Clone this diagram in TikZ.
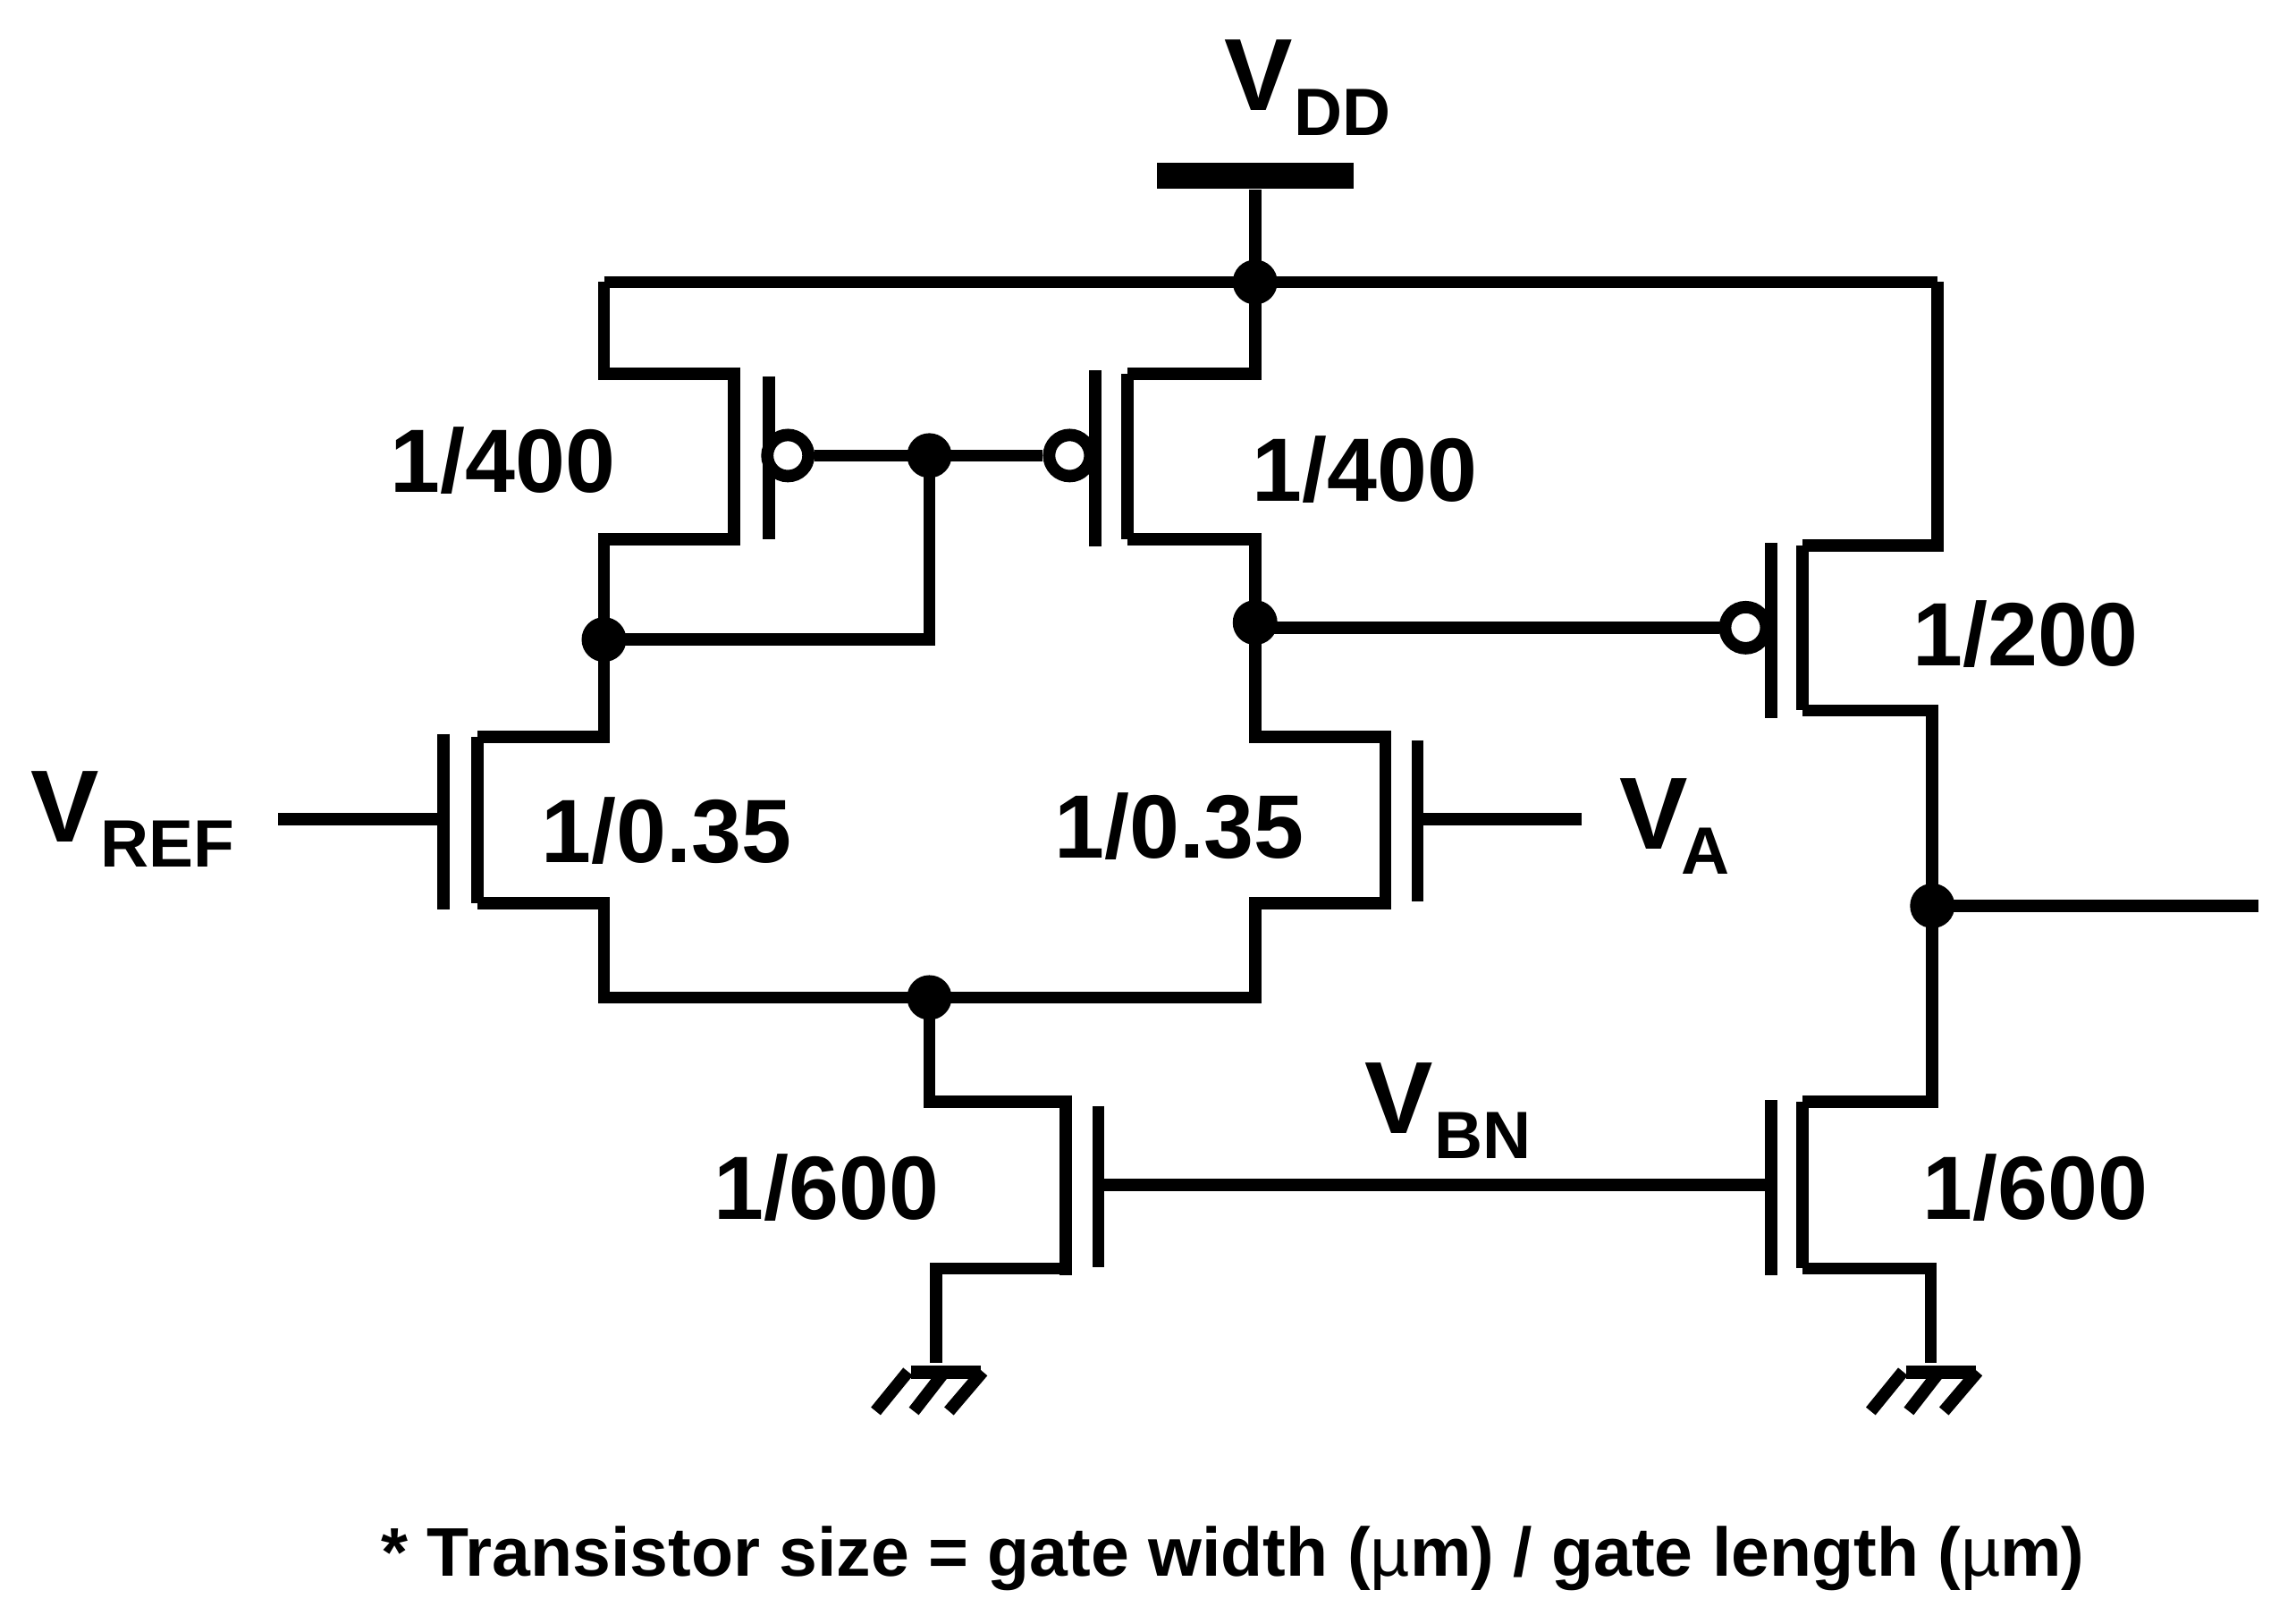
\documentclass[tikz,border=0pt]{standalone}
\usepackage{fontspec}
\setmainfont{Liberation Sans}
\newcommand{\vsub}[2][0.5pt]{\fontsize{32.6}{36}\selectfont V\kern#1\raisebox{-7.9pt}{\fontsize{21.3}{24}\selectfont #2}}
\begin{document}
\begin{tikzpicture}[x=0.01638cm,y=-0.01638cm,
	wire/.style={line width=0.138cm,line join=miter},
	bar/.style={wire,shorten <=-2pt,shorten >=-2pt},
	dot/.style={circle,fill=black,inner sep=0pt,minimum size=0.5cm},
	bub/.style={circle,draw=black,fill=white,line width=0.138cm,inner sep=0pt,minimum size=0.46cm},
	lbl/.style={anchor=base west,inner sep=0pt,font=\bfseries\fontsize{28.6}{32}\selectfont},
	gnd/.pic={
		\draw[line width=0.15cm] (-17,6.5) -- (31,6.5);
		\draw[wire] (-19,6) -- (-41,33);
		\draw[wire] (6,6) -- (-15,33);
		\draw[wire] (32,6) -- (9,33);
	}]
	\useasboundingbox (0,0) rectangle (1567.8,1108.7);

	\node[fill=black,inner sep=0pt,minimum width=2.195cm,minimum height=0.295cm] (vdd) at (857,120) {};
	\node[dot] (jv) at (857,192.6) {};
	\node[dot] (jg) at (634.6,311) {};
	\node[dot] (jl) at (412.4,436.6) {};
	\node[dot] (jr) at (857,425) {};
	\node[dot] (jt) at (634.6,681) {};
	\node[dot] (jo) at (1319.5,618.4) {};

	\coordinate (tl) at (412.4,192.6);
	\coordinate (tr) at (1323,192.6);
	\coordinate (c1a) at (501,255);
	\coordinate (c1b) at (501,368);
	\coordinate (g1a) at (525,257);
	\coordinate (g1b) at (525,368);
	\coordinate (c2a) at (770,255);
	\coordinate (c2b) at (770,368);
	\coordinate (g2a) at (748,253);
	\coordinate (g2b) at (748,373);
	\coordinate (c3a) at (1231,372.5);
	\coordinate (c3b) at (1231,485);
	\coordinate (g3a) at (1209.5,370.5);
	\coordinate (g3b) at (1209.5,490.5);
	\coordinate (c4a) at (326,503);
	\coordinate (c4b) at (326,616.5);
	\coordinate (g4a) at (303,501);
	\coordinate (g4b) at (303,621);
	\coordinate (c5a) at (946,503);
	\coordinate (c5b) at (946,616.5);
	\coordinate (g5a) at (968,505.5);
	\coordinate (g5b) at (968,615.5);
	\coordinate (c6a) at (727.5,752);
	\coordinate (c6b) at (727.5,866);
	\coordinate (g6a) at (750,755);
	\coordinate (g6b) at (750,865);
	\coordinate (c7a) at (1231,752);
	\coordinate (c7b) at (1231,866);
	\coordinate (g7a) at (1209.5,751);
	\coordinate (g7b) at (1209.5,870.5);
	\coordinate (e4) at (190,559);
	\coordinate (e5) at (1080,559);
	\coordinate (eo) at (1542,618.4);
	\coordinate (gl) at (639,930.4);
	\coordinate (gr) at (1318.4,930.4);

	\foreach \t in {1,5,6}
		\draw[bar] (c\t a) -- (c\t b);
	\foreach \t in {2,3,4,7}
		\draw[wire] (c\t a) -- (c\t b);
	\foreach \t in {1,...,7}
		\draw[wire] (g\t a) -- (g\t b);

	\node[bub] (b1) at (538,311) {};
	\node[bub] (b2) at (730.4,311) {};
	\node[bub] (b3) at (1192,428.5) {};

	\draw[wire] (vdd) -- (jv.center);
	\draw[wire] (jv.center) |- (c2a);
	\draw[wire] (tl) -- (tr);
	\draw[wire] (c1a) -| (tl);
	\draw[wire] (tr) |- (c3a);
	\draw[wire] (c1b) -| (jl.center);
	\draw[wire] (c2b) -| (jr.center);
	\draw[wire] (jl.center) -| (jg.center);
	\draw[wire] (b1) -- (jg.center) -- (b2);
	\draw[wire] (b3 -| jr) -- (b3);
	\draw[wire] (jl.center) |- (c4a);
	\draw[wire] (jr.center) |- (c5a);
	\draw[wire] (c4b) -| (tl |- jt) -- (jt.center);
	\draw[wire] (c5b) -| (jr |- jt) -- (jt.center);
	\draw[wire] (jt.center) |- (c6a);
	\draw[wire] (c3b) -| (jo.center);
	\draw[wire] (jo.center) |- (c7a);
	\draw[wire] (jo.center) -- (eo);
	\draw[wire] (c6b) -| (gl);
	\draw[wire] (c7b) -| (gr);
	\draw[wire] (e4) -- (e4 -| g4a);
	\draw[wire] (e5) -- (e5 -| g5a);
	\draw[wire] (g6a |- 0,809) -- (g7a |- 0,809);

	\pic at (gl) {gnd};
	\pic at (gr) {gnd};

	\node[lbl] (lvdd) at (835.5,75.4) {\vsub{DD}};
	\node[lbl] (lref) at (20.5,574.8) {\vsub{REF}};
	\node[lbl] (la) at (1105.5,579.6) {\vsub[-2pt]{A}};
	\node[lbl] (lbn) at (931.3,774) {\vsub{BN}};
	\node[lbl] (s1) at (266,336) {1/400};
	\node[lbl] (s2) at (854.5,342) {1/400};
	\node[lbl] (s3) at (1306,454.5) {1/200};
	\node[lbl] (s4) at (369.5,589) {1/0.35};
	\node[lbl] (s5) at (719.5,585.5) {1/0.35};
	\node[lbl] (s6) at (487,832.5) {1/600};
	\node[lbl] (s7) at (1312.5,832.5) {1/600};
	\node[anchor=base west,inner sep=0pt,font=\bfseries\fontsize{21.9}{24}\selectfont] (note) at (260,1076) {* Transistor size = gate width ({\mdseries µ}m) / gate length ({\mdseries µ}m)};
\end{tikzpicture}
\end{document}
